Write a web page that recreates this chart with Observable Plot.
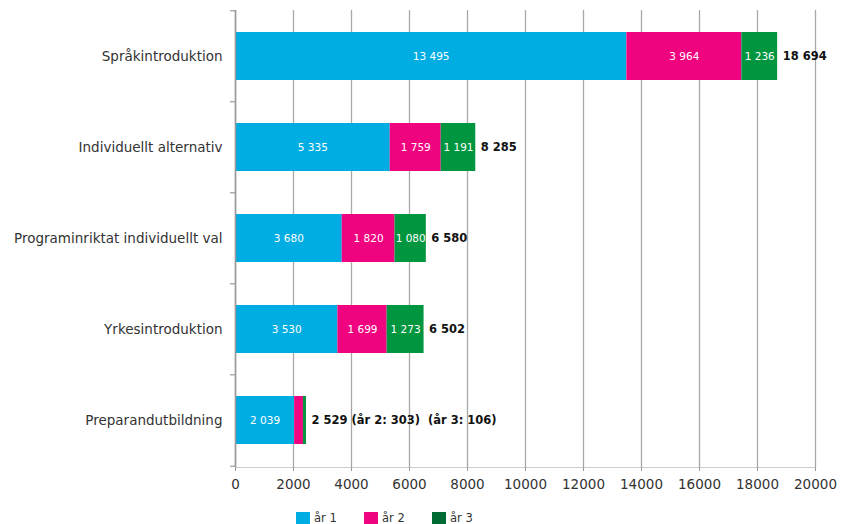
<!DOCTYPE html>
<html>
<head>
<meta charset="utf-8">
<script src="https://cdn.jsdelivr.net/npm/d3@7"></script>
<script src="https://cdn.jsdelivr.net/npm/@observablehq/plot@0.6"></script>
<style>
  body { margin: 0; background: #fff; font-family: "DejaVu Sans", sans-serif; }
  #legend { display: flex; gap: 0; margin-left: 296px; margin-top: 11px; font-family: "DejaVu Sans", sans-serif; font-size: 11.5px; color: #333; }
  .item { display: flex; align-items: center; width: 68px; }
  .sw { width: 14px; height: 12px; margin-right: 4px; }
</style>
</head>
<body>
<div id="chart"></div>
<div id="legend"></div>
<script>
const categories = ["Språkintroduktion", "Individuellt alternativ", "Programinriktat individuellt val", "Yrkesintroduktion", "Preparandutbildning"];
const seriesNames = ["år 1", "år 2", "år 3"];
const ar1 = [13495, 5335, 3680, 3530, 2039];
const ar2 = [3964, 1759, 1820, 1699, 303];
const ar3 = [1236, 1191, 1080, 1273, 106];
const totalLabels = ["18 694", "8 285", "6 580", "6 502", "2 529 (år 2: 303)  (år 3: 106)"];
const xTicks = [0, 2000, 4000, 6000, 8000, 10000, 12000, 14000, 16000, 18000, 20000];
const colors = ["#00ade2", "#f0037f", "#00963f"];
const legendColors = ["#00ade2", "#f0037f", "#006b35"];

const seriesValues = [ar1, ar2, ar3];
const rows = [];
categories.forEach((c, i) => seriesNames.forEach((s, j) => rows.push({cat: c, series: s, value: seriesValues[j][i], showLabel: !(i === 4 && j > 0)})));
const totals = categories.map((c, i) => ({cat: c, end: ar1[i] + ar2[i] + ar3[i], label: totalLabels[i]}));

const fmt = d3.formatLocale({thousands: " ", grouping: [3], decimal: ","}).format(",d");

const W = 842, H = 500, mt = 10, mb = 33;
const step = (H - mt - mb) / categories.length;

const chart = Plot.plot({
  width: W, height: H,
  marginLeft: 235, marginRight: 27, marginTop: mt, marginBottom: mb,
  style: {fontFamily: "DejaVu Sans, sans-serif", background: "#fff"},
  x: {domain: [0, 20000], ticks: xTicks},
  y: {domain: categories, paddingInner: 0.47, paddingOuter: 0.235},
  color: {domain: seriesNames, range: colors},
  marks: [
    Plot.gridX(xTicks, {stroke: "#a8a8a8", strokeOpacity: 1, strokeWidth: 1.3}),
    Plot.frame({anchor: "bottom", stroke: "#ccc"}),
    Plot.axisX(xTicks, {tickFormat: d => String(d), tickSize: 4, tickPadding: 8, stroke: "#999", fontSize: 13.5, fill: "#333", label: null}),
    Plot.axisY({tickSize: 0, tickPadding: 13, fontSize: 13.5, fill: "#333", label: null}),
    Plot.barX(rows, {x: "value", y: "cat", fill: "series"}),
    Plot.text(rows, Plot.stackX({x: "value", y: "cat", z: "series", text: d => d.showLabel ? fmt(d.value) : "", fill: "white", fontSize: 10.5})),
    Plot.text(totals, {x: "end", y: "cat", text: "label", textAnchor: "start", dx: 5, fill: "#111", fontSize: 11.5, fontWeight: 600}),
    Plot.ruleX([0], {stroke: "#999", strokeWidth: 1.5}),
    Plot.ruleY(categories, {y: d => d, x1: 0, x2: 0, insetLeft: -5, dy: -step / 2, stroke: "#888"}),
    Plot.ruleY([categories[categories.length - 1]], {y: d => d, x1: 0, x2: 0, insetLeft: -5, dy: step / 2, stroke: "#888"})
  ]
});
document.getElementById("chart").appendChild(chart);

const legend = document.getElementById("legend");
seriesNames.forEach((s, i) => {
  const it = document.createElement("div");
  it.className = "item";
  it.innerHTML = `<div class="sw" style="background:${legendColors[i]}"></div><span>${s}</span>`;
  legend.appendChild(it);
});
</script>
</body>
</html>
